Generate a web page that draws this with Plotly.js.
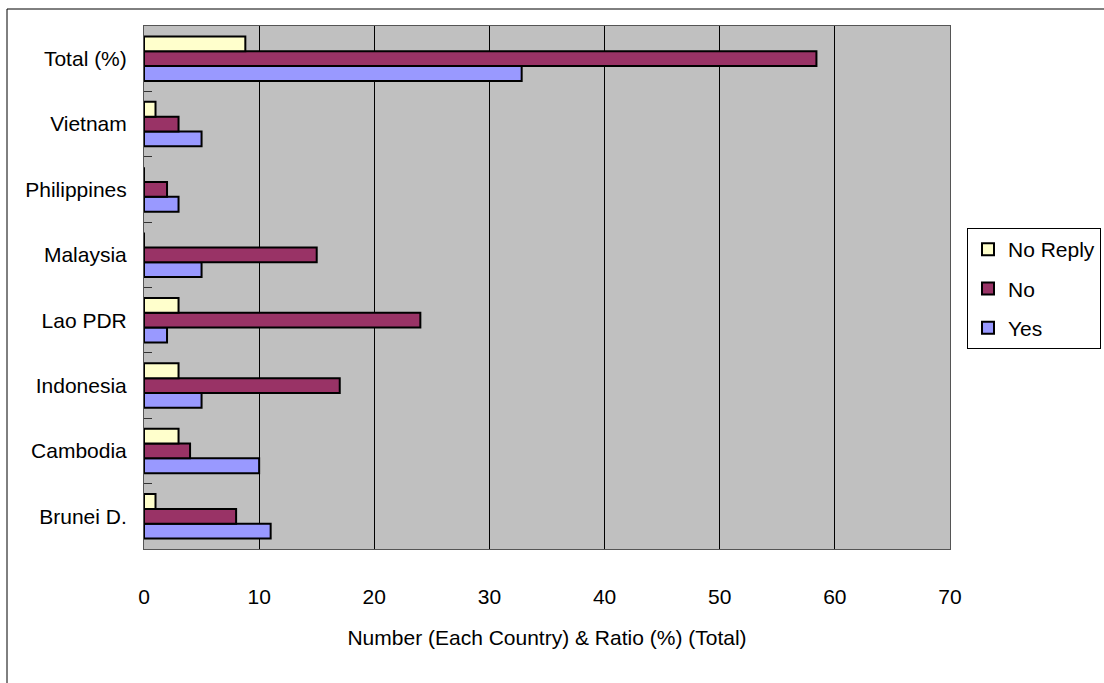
<!DOCTYPE html>
<html>
<head>
<meta charset="utf-8">
<script src="https://cdn.plot.ly/plotly-3.0.1.min.js"></script>
<style>
html,body{margin:0;padding:0;background:#fff;}
#chart{width:1104px;height:683px;}
</style>
</head>
<body>
<div id="chart"></div>
<script>
const categories = ["Brunei D.", "Cambodia", "Indonesia", "Lao PDR", "Malaysia", "Philippines", "Vietnam", "Total (%)"];
const yesValues = [11, 10, 5, 2, 5, 3, 5, 32.8];
const noValues = [8, 4, 17, 24, 15, 2, 3, 58.4];
const noReplyValues = [1, 3, 3, 3, 0, 0, 1, 8.8];
const xTicks = [0, 10, 20, 30, 40, 50, 60, 70];

const font = "Liberation Sans, Arial, sans-serif";
const outline = {color: "#000000", width: 2};

const traces = [
  {type: "bar", orientation: "h", name: "Yes", y: categories, x: yesValues,
   marker: {color: "#9999FF", line: outline}, legendgroup: "c", legendrank: 3},
  {type: "bar", orientation: "h", name: "No", y: categories, x: noValues,
   marker: {color: "#993366", line: outline}, legendgroup: "b", legendrank: 2},
  {type: "bar", orientation: "h", name: "No Reply", y: categories, x: noReplyValues,
   marker: {color: "#FFFFCC", line: outline}, legendgroup: "a", legendrank: 1}
];

const layout = {
  width: 1104, height: 683,
  margin: {l: 144, r: 154, t: 26, b: 134, autoexpand: false},
  paper_bgcolor: "#ffffff",
  plot_bgcolor: "#C0C0C0",
  font: {family: font, size: 21, color: "#000"},
  barmode: "group",
  bargap: 0.32,
  bargroupgap: 0,
  showlegend: true,
  legend: {
    xref: "container", yref: "container",
    x: 967 / 1104, y: 1 - 228 / 683, xanchor: "left", yanchor: "top",
    bordercolor: "#000", borderwidth: 1, bgcolor: "#fff",
    traceorder: "grouped", tracegroupgap: 9,
    itemwidth: 30,
    font: {family: font, size: 21}
  },
  xaxis: {
    range: [0, 70], tickvals: xTicks, ticktext: xTicks.map(String),
    showgrid: true, gridcolor: "#000", gridwidth: 1,
    zeroline: false, ticks: "", ticklabelstandoff: 29,
    showline: true, linecolor: "#555", linewidth: 1, mirror: true,
    title: {text: "Number (Each Country) & Ratio (%) (Total)", standoff: 23, font: {family: font, size: 21}},
    fixedrange: true
  },
  yaxis: {
    type: "category", categoryorder: "array", categoryarray: categories,
    ticks: "inside", tickson: "boundaries", ticklen: 8, tickcolor: "#333", tickwidth: 1,
    showgrid: false, ticklabelstandoff: 12,
    showline: true, linecolor: "#555", linewidth: 1, mirror: true,
    fixedrange: true
  },
  shapes: [
    {type: "rect", xref: "paper", yref: "paper",
     x0: (7 - 144) / 806, x1: 1.5, y0: -0.5, y1: (549 - 9) / 523,
     line: {color: "#000", width: 1}, fillcolor: "rgba(0,0,0,0)", layer: "below"}
  ]
};

Plotly.newPlot("chart", traces, layout, {displayModeBar: false, staticPlot: true});
</script>
</body>
</html>
